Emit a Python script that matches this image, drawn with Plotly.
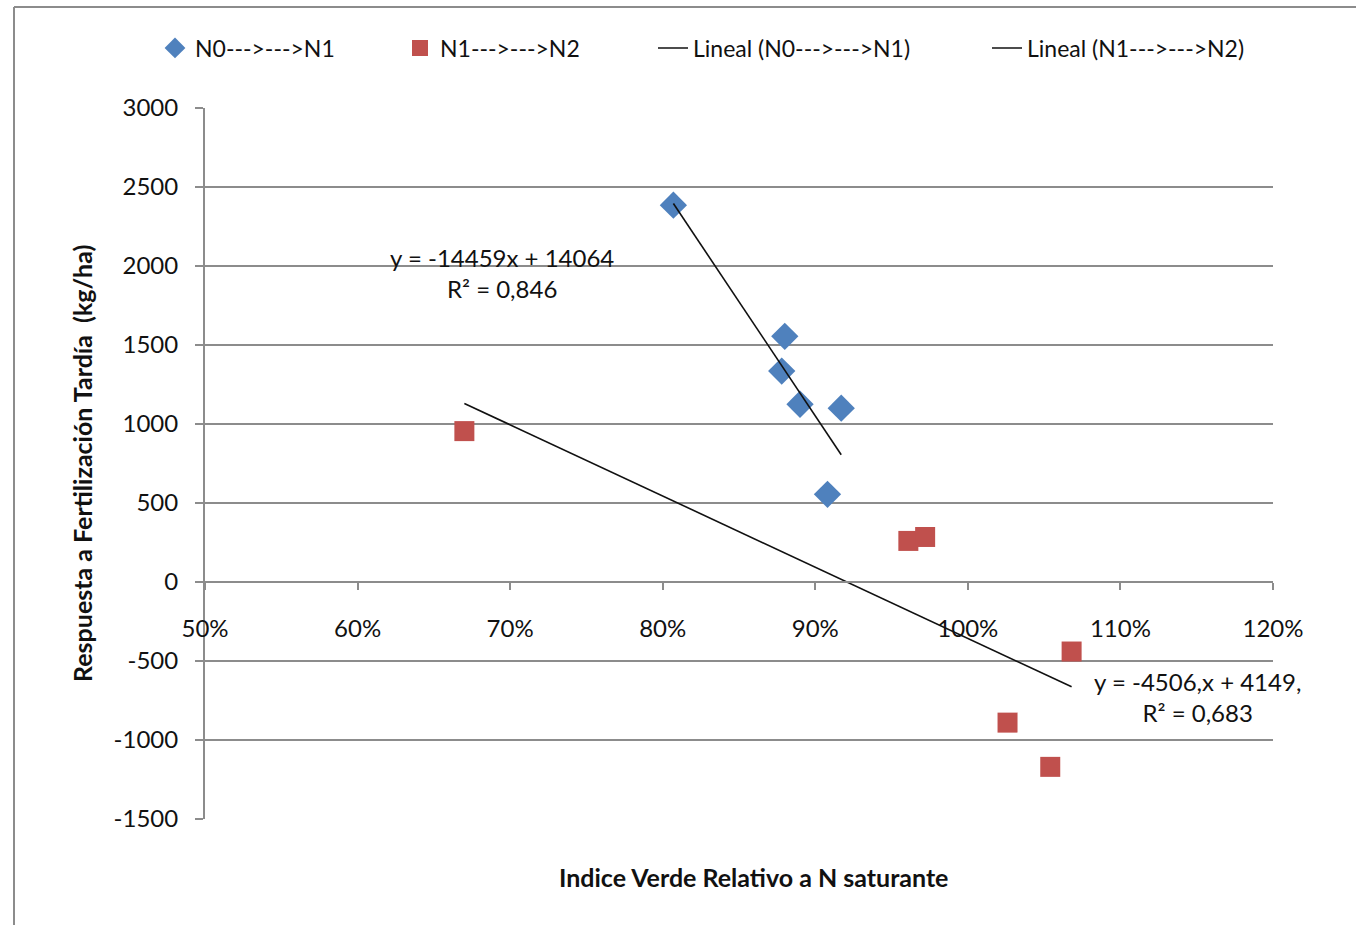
import plotly.graph_objects as go

# ---- data ----
n0_x = [0.807, 0.880, 0.878, 0.890, 0.917, 0.908]
n0_y = [2385, 1555, 1335, 1125, 1100, 555]
n1_x = [0.670, 0.961, 0.972, 1.068, 1.026, 1.054]
n1_y = [955, 260, 285, -440, -890, -1170]

# trendline coefficients (from chart labels)
n0_slope, n0_intercept = -14459, 14064
n1_slope, n1_intercept = -4506, 4149

x_ticks = [0.5, 0.6, 0.7, 0.8, 0.9, 1.0, 1.1, 1.2]
x_tick_labels = ["50%", "60%", "70%", "80%", "90%", "100%", "110%", "120%"]
y_ticks = [-1500, -1000, -500, 0, 500, 1000, 1500, 2000, 2500, 3000]
y_tick_labels = ["-1500", "-1000", "-500", "0", "500", "1000", "1500", "2000", "2500", "3000"]

eq0 = "y = -14459x + 14064<br>R² = 0,846"
eq1 = "y = -4506,x + 4149,<br>R² = 0,683"

FONT = "Lato"
GRID = "#8c8c8c"
BLUE = "#4F81BD"
RED = "#C0504D"

def trend(xs, m, b):
    lo, hi = min(xs), max(xs)
    return [lo, hi], [m * lo + b, m * hi + b]

fig = go.Figure()
fig.add_trace(go.Scatter(x=n0_x, y=n0_y, mode="markers", name="N0--->--->N1",
                         marker=dict(symbol="diamond", size=21, color=BLUE), legend="legend"))
fig.add_trace(go.Scatter(x=n1_x, y=n1_y, mode="markers", name="N1--->--->N2",
                         marker=dict(symbol="square", size=20, color=RED), legend="legend"))
tx, ty = trend(n0_x, n0_slope, n0_intercept)
fig.add_trace(go.Scatter(x=tx, y=ty, mode="lines", name="Lineal (N0--->--->N1)",
                         line=dict(color="#111111", width=1.6), legend="legend2"))
tx, ty = trend(n1_x, n1_slope, n1_intercept)
fig.add_trace(go.Scatter(x=tx, y=ty, mode="lines", name="Lineal (N1--->--->N2)",
                         line=dict(color="#111111", width=1.6), legend="legend2"))

W, H = 1356, 925
L, R, T, B = 205, 1273, 108, 819
pw, ph = R - L, B - T

def px_x(p):
    return (p - L) / pw

def px_y(p):
    return (B - p) / ph

fig.update_layout(
    width=W, height=H,
    margin=dict(l=L, r=W - R, t=T, b=H - B, pad=0),
    paper_bgcolor="white", plot_bgcolor="white",
    font=dict(family=FONT, size=23, color="#111111"),
    showlegend=True,
    legend=dict(orientation="h", x=px_x(155), y=px_y(48), xanchor="left", yanchor="middle",
                entrywidth=200, entrywidthmode="pixels", font=dict(size=23),
                bgcolor="rgba(0,0,0,0)", itemclick=False),
    legend2=dict(orientation="h", x=px_x(653), y=px_y(48), xanchor="left", yanchor="middle",
                 entrywidth=289, entrywidthmode="pixels", font=dict(size=23),
                 bgcolor="rgba(0,0,0,0)"),
    xaxis=dict(range=[0.5, 1.2], tickvals=x_ticks, ticktext=x_tick_labels,
               showgrid=False, zeroline=False, showline=True, linecolor=GRID, linewidth=2,
               ticks="outside", ticklen=7, tickcolor=GRID, tickwidth=2,
               anchor="free", position=1500 / 4500, ticklabelstandoff=18,
               tickfont=dict(size=24)),
    yaxis=dict(range=[-1500, 3000], tickvals=y_ticks, ticktext=y_tick_labels,
               showgrid=True, gridcolor=GRID, gridwidth=2,
               zeroline=False, showline=True, linecolor=GRID, linewidth=2,
               ticks="outside", ticklen=8, tickcolor=GRID, tickwidth=2,
               ticklabelstandoff=12, tickfont=dict(size=24)),
)

fig.add_annotation(text=eq0, xref="x", yref="y", x=0.6946, y=1955, showarrow=False,
                   font=dict(size=24), align="center")
fig.add_annotation(text=eq1, xref="x", yref="y", x=1.1507, y=-728, showarrow=False,
                   font=dict(size=24), align="center")

fig.add_annotation(text="<b>Indice Verde Relativo a N saturante</b>", xref="paper", yref="paper",
                   x=px_x(753), y=px_y(877), showarrow=False, font=dict(size=25),
                   xanchor="center", yanchor="middle")
fig.add_annotation(text="<b>Respuesta a Fertilización Tardía  (kg/ha)</b>", xref="paper", yref="paper",
                   x=px_x(82), y=px_y(464), showarrow=False, font=dict(size=25), textangle=-90,
                   xanchor="center", yanchor="middle")

# chart-area border (left and top edges)
fig.add_shape(type="line", xref="paper", yref="paper", x0=px_x(14), x1=px_x(14),
              y0=px_y(7), y1=px_y(940), line=dict(color=GRID, width=2))
fig.add_shape(type="line", xref="paper", yref="paper", x0=px_x(14), x1=px_x(1360),
              y0=px_y(7), y1=px_y(7), line=dict(color=GRID, width=2))

fig.write_html("out.html", config={"displayModeBar": False},
               post_script="document.body.style.margin='0';document.body.style.overflow='hidden';")
